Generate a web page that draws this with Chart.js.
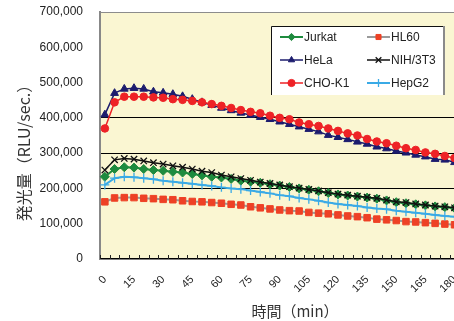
<!DOCTYPE html>
<html>
<head>
<meta charset="utf-8">
<script src="https://cdn.jsdelivr.net/npm/chart.js@4.4.1/dist/chart.umd.min.js"></script>
<style>
  html, body { margin: 0; padding: 0; background: #fff; overflow: hidden; width: 454px; height: 321px; }
  #wrap { position: relative; width: 470px; height: 321px; }
</style>
</head>
<body>
<div id="wrap"><canvas id="c"></canvas></div>
<script>
// Elapsed time after substrate addition (min)
const minutes = ['0','5','10','15','20','25','30','35','40','45','50','55','60','65','70','75','80','85','90',
                 '95','100','105','110','115','120','125','130','135','140','145','150','155','160','165','170','175','180'];

// Luminescence (RLU/sec.) per cell line
const jurkat = [233000,255000,260000,259000,255000,252000,250000,247000,245000,241000,237000,233000,231000,227000,222000,219000,216000,212000,208000,
                204000,200000,196000,192000,187000,183000,180000,177000,174000,171000,166000,161000,158000,155000,152000,149000,147000,144000];
const hl60   = [162000,173000,174000,174000,172000,171000,169000,168000,165000,163000,162000,160000,158000,155000,153000,148000,145000,142000,139000,
                137000,136000,132000,130000,128000,125000,122000,120000,117000,113000,111000,109000,106000,105000,103000,101000,99000,97000];
const hela   = [409000,470000,482000,484000,482000,474000,471000,467000,461000,453000,444000,436000,428000,421000,414000,408000,402000,396000,389000,
                382000,375000,368000,361000,351000,345000,339000,332000,326000,318000,313000,306000,301000,295000,290000,283000,281000,274000];
const nih3t3 = [252000,281000,285000,283000,278000,273000,269000,264000,260000,255000,249000,245000,238000,233000,228000,223000,218000,214000,210000,
                205000,201000,197000,193000,188000,184000,181000,178000,175000,172000,167000,162000,160000,156000,153000,150000,148000,145000];
const chok1  = [370000,444000,460000,460000,460000,458000,457000,453000,451000,448000,444000,439000,434000,428000,422000,417000,413000,406000,400000,
                396000,387000,382000,377000,370000,363000,356000,350000,340000,333000,328000,321000,314000,309000,302000,298000,292000,286000];
const hepg2  = [210000,229000,233000,232000,229000,226000,222000,219000,216000,213000,210000,207000,203000,200000,198000,194000,190000,186000,181000,
                178000,173000,169000,165000,160000,156000,153000,150000,146000,143000,141000,137000,134000,131000,128000,125000,122000,120000];

// Value axis
const yMax = 700000;
const yStep = 100000;
const yGridValues = [200000, 300000, 400000];

const FONT = '"Liberation Sans", Arial, sans-serif';
const JP_FONT = '"Noto Sans CJK JP", "Liberation Sans", sans-serif';

function series(label, data, color, lineColor, style, radius, lineWidth, order) {
  return {
    label, data,
    borderColor: lineColor,
    backgroundColor: color,
    pointBackgroundColor: color,
    pointBorderColor: color,
    pointStyle: style,
    pointRadius: radius,
    pointBorderWidth: (style === 'cross' || style === 'crossRot') ? 1.3 : 1,
    borderWidth: lineWidth,
    tension: 0,
    fill: false,
    order
  };
}

const datasets = [
  series('Jurkat',  jurkat, '#1e8b3e', '#1e8b3e', 'rectRot', 4.5, 2,   6),
  series('HL60',    hl60,   '#ee4125', '#9a9a9a', 'rect',    4.6, 2,   5),
  series('HeLa',    hela,   '#1c1c6e', '#1c1c6e', 'triangle',4.5, 1.5, 4),
  series('NIH/3T3', nih3t3, '#111111', '#111111', 'crossRot',4.5, 1.5, 3),
  series('CHO-K1',  chok1,  '#ee2226', '#ee2226', 'circle',  3.8, 1.5, 2),
  series('HepG2',   hepg2,  '#3aaae6', '#3aaae6', 'cross',   4.5, 2,   1)
];

// Pale plot-area fill plus the gray frame on the top edge
const plotFrame = {
  id: 'plotFrame',
  beforeDraw(chart) {
    const { ctx, chartArea: a } = chart;
    ctx.save();
    ctx.fillStyle = '#faf6d2';
    ctx.fillRect(a.left, a.top, a.right - a.left, a.bottom - a.top);
    ctx.strokeStyle = '#8c8c8c';
    ctx.lineWidth = 1;
    ctx.beginPath();
    ctx.moveTo(a.left, a.top + 0.5);
    ctx.lineTo(a.right, a.top + 0.5);
    ctx.moveTo(a.right - 0.5, a.top);
    ctx.lineTo(a.right - 0.5, a.bottom);
    ctx.stroke();
    ctx.restore();
  },
  // short inward tick marks on the time axis, one per category boundary
  afterDatasetsDraw(chart) {
    const { ctx, chartArea: a } = chart;
    const xs = chart.scales.x;
    ctx.save();
    ctx.strokeStyle = '#222';
    ctx.lineWidth = 1;
    ctx.beginPath();
    for (let i = 0; i <= minutes.length; i++) {
      const x = Math.round(xs.getPixelForValue(i - 0.5)) + 0.5;
      ctx.moveTo(x, a.bottom);
      ctx.lineTo(x, a.bottom - 4);
    }
    ctx.stroke();
    ctx.restore();
  }
};

// Two-column legend box inside the plot
const boxLegend = {
  id: 'boxLegend',
  afterDraw(chart) {
    const { ctx } = chart;
    const bx = 271, by = 26, bw = 173, bh = 69;
    ctx.save();
    ctx.fillStyle = '#ffffff';
    ctx.fillRect(bx, by, bw, bh);
    ctx.strokeStyle = '#111';
    ctx.lineWidth = 1;
    ctx.beginPath();
    ctx.moveTo(bx + 0.5, by + bh);
    ctx.lineTo(bx + 0.5, by + 0.5);
    ctx.lineTo(bx + bw, by + 0.5);
    ctx.stroke();
    ctx.strokeStyle = '#8a8a8a';
    ctx.lineWidth = 2;
    ctx.beginPath();
    ctx.moveTo(bx + bw, by);
    ctx.lineTo(bx + bw, by + bh);
    ctx.stroke();

    const cols = [280, 367];
    const rows = [37, 60, 83];
    chart.data.datasets.forEach((ds, i) => {
      const x0 = cols[i % 2];
      const y = rows[Math.floor(i / 2)];
      ctx.strokeStyle = ds.borderColor;
      ctx.lineWidth = ds.borderWidth;
      ctx.beginPath();
      ctx.moveTo(x0, y);
      ctx.lineTo(x0 + 23, y);
      ctx.stroke();
      ctx.fillStyle = ds.pointBackgroundColor;
      ctx.strokeStyle = ds.pointBorderColor;
      ctx.lineWidth = ds.pointBorderWidth;
      const r = ds.pointStyle === 'cross' || ds.pointStyle === 'crossRot' ? 4 : 3.6;
      Chart.helpers.drawPoint(ctx, { pointStyle: ds.pointStyle, radius: r, rotation: 0, borderWidth: ds.pointBorderWidth }, x0 + 11.5, y);
      ctx.fillStyle = '#222';
      ctx.font = '12px ' + FONT;
      ctx.textAlign = 'left';
      ctx.textBaseline = 'middle';
      ctx.fillText(ds.label, x0 + 24, y + 0.5);
    });
    ctx.restore();
  }
};

// Axis titles
const axisTitles = {
  id: 'axisTitles',
  afterDraw(chart) {
    const { ctx, chartArea: a } = chart;
    ctx.save();
    ctx.fillStyle = '#333';
    ctx.textAlign = 'center';
    ctx.textBaseline = 'middle';
    ctx.font = '15px ' + JP_FONT;
    ctx.fillText('時間（min）', a.left + 195, 311);
    ctx.translate(24, 149);
    ctx.rotate(-Math.PI / 2);
    ctx.font = '16px ' + JP_FONT;
    ctx.fillText('発光量（RLU/sec.）', 0, 0);
    ctx.restore();
  }
};

new Chart(document.getElementById('c'), {
  type: 'line',
  data: { labels: minutes, datasets },
  options: {
    responsive: true,
    maintainAspectRatio: false,
    animation: false,
    devicePixelRatio: 1,
    layout: { padding: { left: 36, top: 12, right: 9, bottom: 0 } },
    plugins: { legend: { display: false }, tooltip: { enabled: false } },
    scales: {
      x: {
        type: 'category',
        offset: true,
        grid: { display: false },
        border: { display: true, color: '#000', width: 1.5 },
        ticks: {
          autoSkip: false,
          minRotation: 45,
          maxRotation: 45,
          padding: 6,
          color: '#222',
          font: { family: FONT, size: 11 },
          callback(value, index) { return index % 3 === 0 ? minutes[index] : ''; }
        },
        afterFit(scale) { scale.height = 62; }
      },
      y: {
        min: 0,
        max: yMax,
        grid: {
          drawTicks: true,
          tickLength: 14,
          tickColor: 'rgba(0,0,0,0)',
          lineWidth: 1,
          color: (c) => (c.tick && yGridValues.includes(c.tick.value)) ? '#000' : 'rgba(0,0,0,0)'
        },
        border: { display: true, color: '#888', width: 2 },
        ticks: {
          stepSize: yStep,
          padding: 3,
          color: '#222',
          font: { family: FONT, size: 12 },
          callback(v) { return v.toLocaleString('en-US'); }
        },
        afterFit(scale) { scale.width = 64; }
      }
    }
  },
  plugins: [plotFrame, boxLegend, axisTitles]
});
</script>
</body>
</html>
